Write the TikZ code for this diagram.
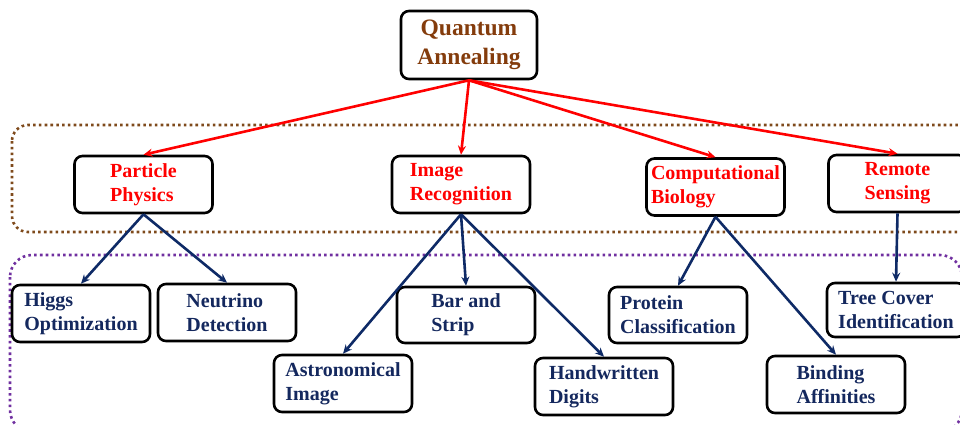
\documentclass[tikz,border=0pt]{standalone}
\usepackage{fontspec}
\setmainfont{Liberation Serif}
\usetikzlibrary{arrows.meta}
\definecolor{qbrown}{HTML}{843C0C}
\definecolor{dotbrown}{HTML}{7F4A1C}
\definecolor{dotpurple}{HTML}{7030A0}
\definecolor{navy}{HTML}{0E2A66}
\definecolor{navytext}{HTML}{14285E}
\tikzset{
  box/.style={draw=black, line width=2.6pt, rounded corners=8pt, align=left,
    inner sep=0pt, minimum width=138pt, minimum height=57pt,
    font=\bfseries\fontsize{20}{24}\selectfont},
  topbox/.style={box, minimum width=136pt, minimum height=68pt, text=qbrown,
    font=\bfseries\fontsize{23.5}{29}\selectfont, align=center},
  lvone/.style={box, text=red},
  lvtwo/.style={box, text=navytext},
  redarrow/.style={draw=red, line width=2.6pt, -{Stealth[length=9pt,width=8pt]}},
  bluearrow/.style={draw=navy, line width=2.6pt, -{Stealth[length=9pt,width=8pt]}},
  dotframe/.style={line width=2.6pt, dash pattern=on 2.6pt off 3.2pt, rounded corners=16pt}
}
\begin{document}
\begin{tikzpicture}[x=1pt,y=-1pt]
\clip (0,0) rectangle (960,424);
\fill[white] (0,0) rectangle (960,424);
% dotted frames
\draw[dotframe, draw=dotbrown] (12,125) rectangle (985,232);
\draw[dotframe, draw=dotpurple, rounded corners=22pt] (10,255) rectangle (962,432);
% nodes
\node[topbox] (QA) at (469,45) {Quantum\\Annealing};
\node[lvone] (PP) at (143.5,184.5) {Particle\\Physics};
\node[lvone] (IR) at (461,184.5) {Image\\Recognition};
\node[lvone] (CB) at (715.5,187) {Computational\\Biology};
\node[lvone] (RS) at (897.5,183.5) {Remote\\Sensing};
\node[lvtwo] (HO) at (81,313.5) {Higgs\\Optimization};
\node[lvtwo] (ND) at (227,312.5) {Neutrino\\Detection};
\node[lvtwo] (AI) at (343,383.5) {Astronomical\\Image};
\node[lvtwo, minimum height=56pt] (BS) at (466,315) {Bar and\\Strip};
\node[lvtwo] (HD) at (604,386.5) {Handwritten\\Digits};
\node[lvtwo, minimum height=56pt] (PC) at (678,315) {Protein\\Classification};
\node[lvtwo] (BA) at (836,384.5) {Binding\\Affinities};
\node[lvtwo, minimum height=54pt] (TC) at (896,310) {Tree Cover\\Identification};
% red arrows
\draw[redarrow] (QA.south) -- (PP.north);
\draw[redarrow] (QA.south) -- (IR.north);
\draw[redarrow] (QA.south) -- (CB.north);
\draw[redarrow] (QA.south) -- (RS.north);
% blue arrows
\draw[bluearrow] (PP.south) -- (HO.north);
\draw[bluearrow] (PP.south) -- (ND.north);
\draw[bluearrow] (IR.south) -- (AI.north);
\draw[bluearrow] (IR.south) -- (BS.north);
\draw[bluearrow] (IR.south) -- (HD.north);
\draw[bluearrow] (CB.south) -- (PC.north);
\draw[bluearrow] (CB.south) -- (BA.north);
\draw[bluearrow] (RS.south) -- (TC.north);
\end{tikzpicture}
\end{document}
